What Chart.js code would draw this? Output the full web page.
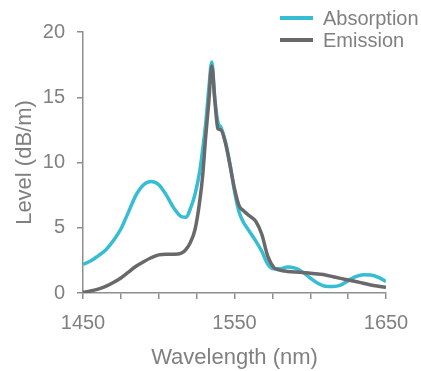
<!DOCTYPE html>
<html>
<head>
<meta charset="utf-8">
<script src="https://cdn.jsdelivr.net/npm/chart.js@4/dist/chart.umd.min.js"></script>
<style>
  html, body { margin: 0; padding: 0; background: #fff; }
  #c { display: block; }
</style>
</head>
<body>
<canvas id="c" width="421" height="371"></canvas>
<script>
const wavelengths = [1450,1455,1460,1465,1470,1475,1480,1485,1490,1495,1500,1505,1510,1515,1518,1521,1524,1527,1529,1531,1533,1535,1537,1539,1541,1544,1547,1550,1553,1556,1560,1564,1568,1572,1576,1580,1585,1590,1595,1600,1605,1610,1615,1620,1625,1630,1635,1640,1645,1650];
const absorption = [2.2,2.45,2.85,3.3,4.0,4.9,6.2,7.5,8.3,8.55,8.3,7.5,6.5,5.85,5.8,6.5,7.6,9.3,11.0,13.0,15.6,17.7,14.9,13.1,12.7,11.6,9.9,7.8,6.2,5.4,4.7,4.0,3.2,2.2,1.85,1.85,2.0,1.9,1.6,1.15,0.75,0.52,0.5,0.6,0.95,1.25,1.4,1.38,1.2,0.88];
const emission = [0.05,0.15,0.3,0.5,0.8,1.15,1.6,2.05,2.4,2.7,2.92,2.97,2.97,3.05,3.35,3.9,4.9,7.0,9.0,12.0,14.6,17.4,14.8,12.6,12.5,11.5,9.8,8.0,6.7,6.3,5.9,5.5,4.5,2.8,1.95,1.75,1.65,1.6,1.58,1.52,1.45,1.38,1.25,1.12,1.0,0.88,0.75,0.62,0.52,0.43];
const seriesNames = ['Absorption', 'Emission'];
const xTickLabels = [1450, 1550, 1650];
const yTicks = [0, 5, 10, 15, 20];

const CYAN = '#36bdd3';
const GRAY = '#69696b';
const AXIS = '#8e8e8e';
const TEXT = '#808080';
const FONT = "'Liberation Sans', Arial, sans-serif";

const legendPlugin = {
  id: 'customLegend',
  afterDraw(chart) {
    const ctx = chart.ctx;
    ctx.save();
    chart.data.datasets.forEach((ds, i) => {
      const y = 18 + i * 22;
      ctx.strokeStyle = ds.borderColor;
      ctx.lineWidth = 4;
      ctx.beginPath();
      ctx.moveTo(280, y);
      ctx.lineTo(313, y);
      ctx.stroke();
      ctx.fillStyle = TEXT;
      ctx.font = "20px " + FONT;
      ctx.textBaseline = 'middle';
      ctx.textAlign = 'left';
      ctx.fillText(ds.label, 323, y + 1);
    });
    ctx.restore();
  }
};

new Chart(document.getElementById('c'), {
  type: 'line',
  data: {
    datasets: [
      {
        label: seriesNames[0],
        data: wavelengths.map((w, i) => ({ x: w, y: absorption[i] })),
        borderColor: CYAN,
        borderWidth: 3.5,
        pointRadius: 0,
        cubicInterpolationMode: 'monotone',
        fill: false,
        order: 1
      },
      {
        label: seriesNames[1],
        data: wavelengths.map((w, i) => ({ x: w, y: emission[i] })),
        borderColor: GRAY,
        borderWidth: 3.5,
        pointRadius: 0,
        cubicInterpolationMode: 'monotone',
        fill: false,
        order: 0
      }
    ]
  },
  options: {
    responsive: false,
    animation: false,
    events: [],
    layout: { padding: { top: 32, right: 35, bottom: 0, left: 0 } },
    plugins: { legend: { display: false }, tooltip: { enabled: false } },
    scales: {
      x: {
        type: 'linear',
        min: 1450,
        max: 1650,
        afterFit(scale) { scale.height = 78; },
        border: { display: true, color: AXIS, width: 1.5 },
        grid: { drawOnChartArea: false, drawTicks: true, tickLength: 6, color: AXIS, lineWidth: 1.5 },
        ticks: {
          stepSize: 25,
          autoSkip: false,
          maxRotation: 0,
          padding: 12,
          color: TEXT,
          font: { family: FONT, size: 20 },
          callback: (v) => xTickLabels.includes(v) ? String(v) : ''
        },
        title: {
          display: true,
          text: 'Wavelength (nm)',
          color: TEXT,
          font: { family: FONT, size: 22 },
          padding: { top: 0, bottom: 0 }
        }
      },
      y: {
        min: 0,
        max: 20,
        afterFit(scale) { scale.width = 83; },
        afterBuildTicks(scale) { scale.ticks = yTicks.map(v => ({ value: v })); },
        border: { display: true, color: AXIS, width: 1.5 },
        grid: { drawOnChartArea: false, drawTicks: true, tickLength: 6, color: AXIS, lineWidth: 1.5 },
        ticks: {
          padding: 12,
          color: TEXT,
          font: { family: FONT, size: 20 },
          callback: (v) => String(v)
        },
        title: {
          display: true,
          text: 'Level (dB/m)',
          color: TEXT,
          font: { family: FONT, size: 22 },
          padding: { top: 12, bottom: 0 }
        }
      }
    }
  },
  plugins: [legendPlugin]
});
</script>
</body>
</html>
